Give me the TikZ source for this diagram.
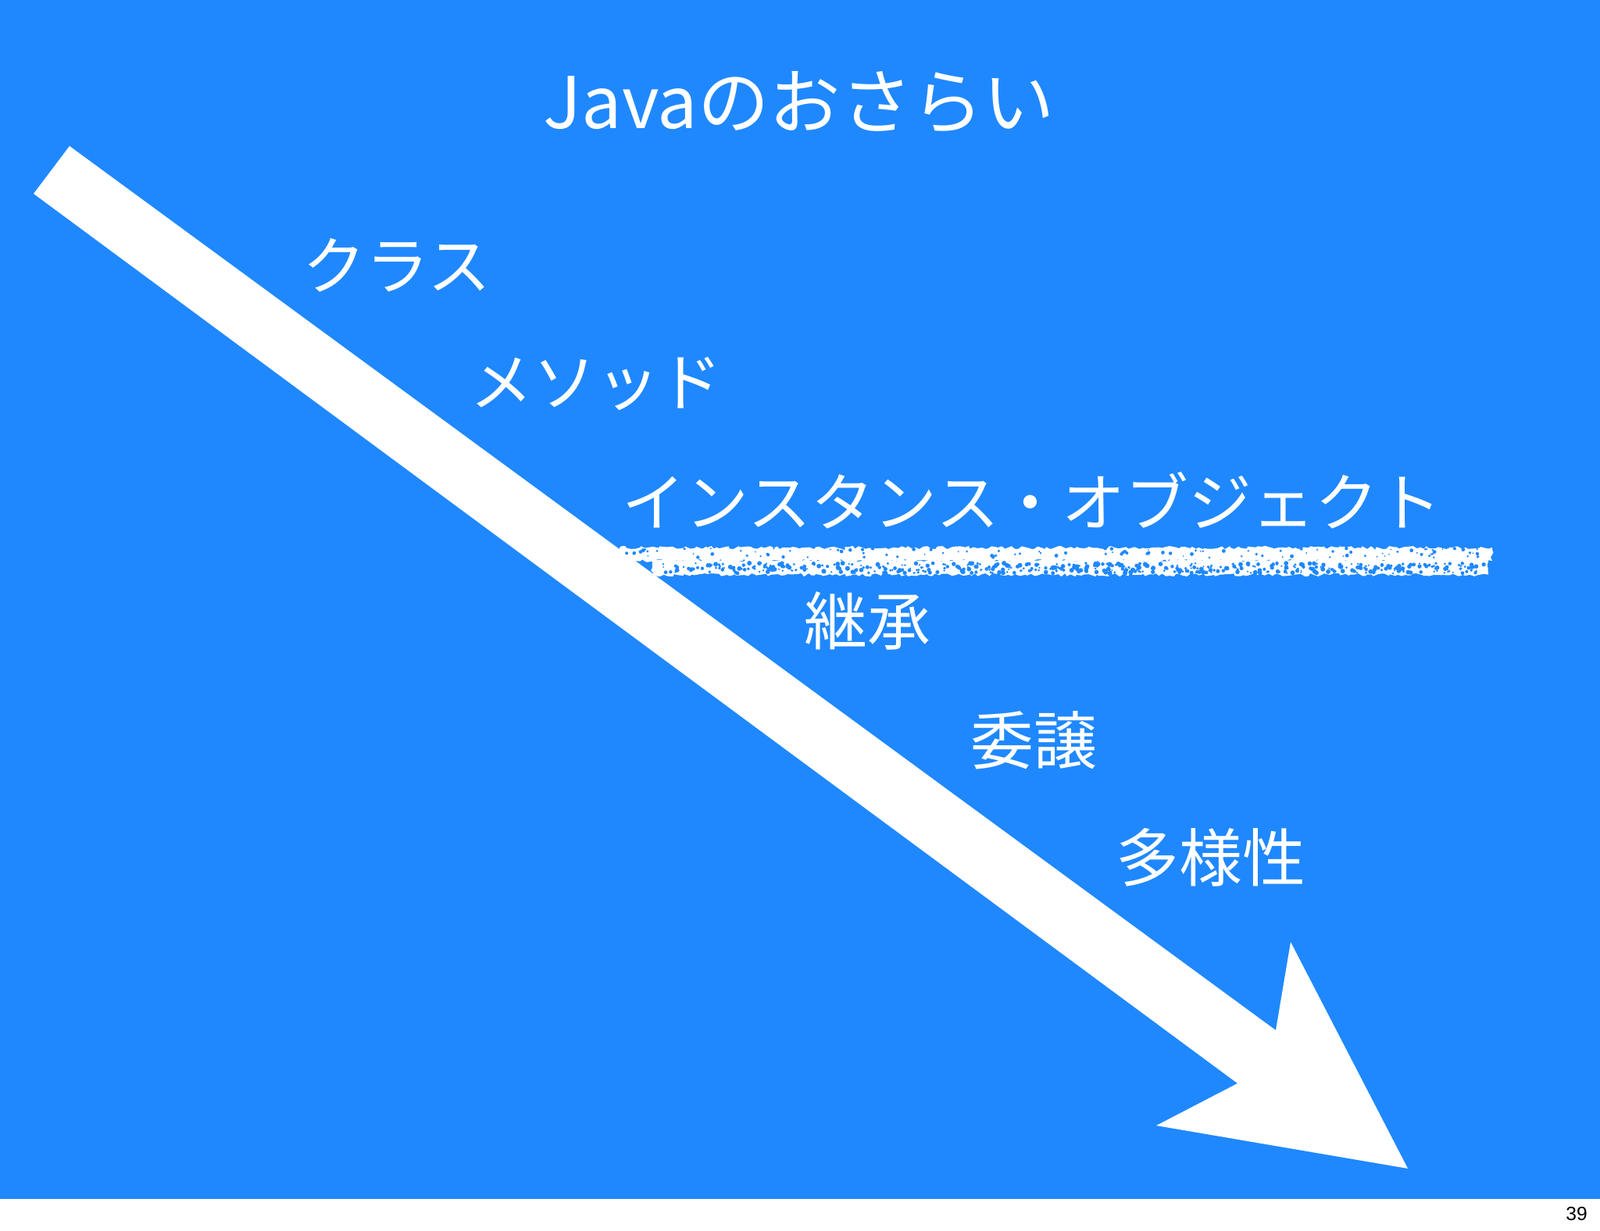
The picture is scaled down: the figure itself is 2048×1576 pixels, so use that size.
\documentclass[tikz,border=0pt]{standalone}
\usepackage{fontspec}
\setmainfont{Noto Sans CJK JP}
\newfontfamily\pagefont{Liberation Sans}
\usetikzlibrary{decorations.pathmorphing}
\definecolor{slideblue}{RGB}{31,136,255}
\tikzset{
  topic/.style={text=white, inner sep=0pt, font=\fontsize{23}{27}\selectfont},
  chalk/.style={fill=white, decorate, decoration={random steps, segment length=1.2pt, amplitude=0.6pt}}
}
\begin{document}
\begin{tikzpicture}[x=0.01cm, y=-0.01cm, line join=round]
  \useasboundingbox (0,0) rectangle (2048,1576);
  \fill[white] (0,0) rectangle (2048,1576);
  \fill[slideblue] (0,0) rectangle (2048,1535);
  % title
  \node[text=white, inner sep=0pt, font=\fontsize{26}{31}\selectfont] (title) at (1023,131) {Javaのおさらい};
  % big arrow
  \coordinate (tailA) at (89,187);
  \coordinate (tailB) at (43,248);
  \fill[white] (tailA) -- (1633,1319) -- (1652,1206) -- (1802,1496) -- (1480,1441) -- (1584,1387) -- (tailB) -- cycle;
  % topics
  \node[topic] (klass) at (508,340) {クラス};
  \node[topic] (method) at (763,491) {メソッド};
  \node[topic] (instance) at (1321,641) {インスタンス・オブジェクト};
  \node[topic] (inherit) at (1110,795) {継承};
  \node[topic] (delegate) at (1323,948) {委譲};
  \node[topic] (poly) at (1550,1098) {多様性};
  % chalk line
  \fill[chalk] (793,701) rectangle (1910,718);
  \fill[chalk] (835,717) rectangle (1905,736);
  \pgfmathsetseed{39}
  \foreach \i in {1,...,520}{
    \pgfmathsetmacro\hx{840+1060*rnd}
    \pgfmathsetmacro\hy{721+13*rnd}
    \pgfmathsetmacro\hr{0.3+0.6*rnd}
    \fill[slideblue] (\hx,\hy) circle[radius=\hr pt];
  }
  \foreach \i in {1,...,120}{
    \pgfmathsetmacro\hx{800+1100*rnd}
    \pgfmathsetmacro\hy{702+12*rnd}
    \pgfmathsetmacro\hr{0.25+0.45*rnd}
    \fill[slideblue] (\hx,\hy) circle[radius=\hr pt];
  }
  % page number
  \node[inner sep=0pt, font=\pagefont\fontsize{7}{8}\selectfont] (pageno) at (2018,1554) {39};
\end{tikzpicture}
\end{document}
